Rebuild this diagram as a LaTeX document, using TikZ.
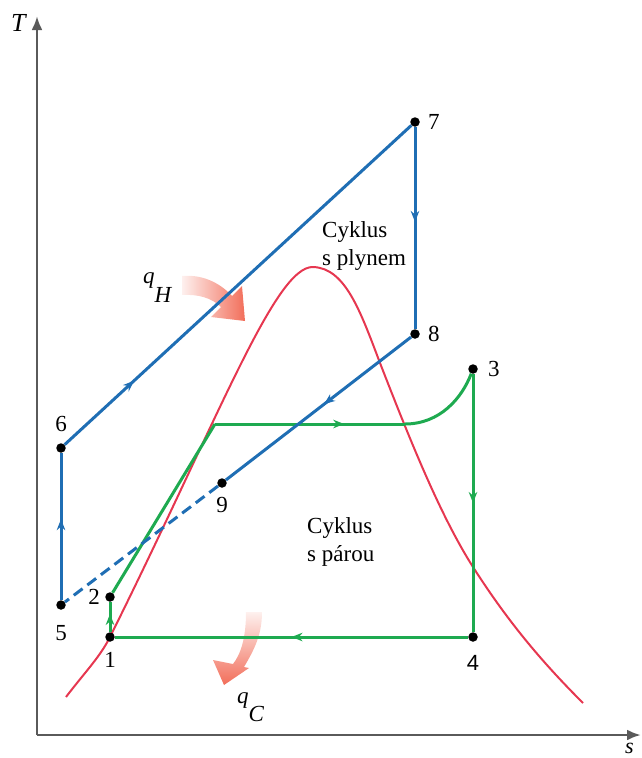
\documentclass[tikz,border=0pt]{standalone}
\usepackage{fontspec}
\setmainfont{Liberation Serif}
\newfontfamily\sansdigit{Liberation Sans}
\usetikzlibrary{arrows.meta,decorations.markings}

\definecolor{gasblue}{RGB}{31,110,180}
\definecolor{steamgreen}{RGB}{30,170,80}
\definecolor{domered}{RGB}{230,55,80}
\definecolor{heatred}{RGB}{242,110,90}
\definecolor{axisgray}{RGB}{90,90,90}

\begin{document}
\begin{tikzpicture}[x=1pt,y=-1pt,
    dot/.style={circle,fill=black,inner sep=0pt,minimum size=9.5pt},
    lbl/.style={inner sep=0pt,font=\fontsize{23}{28}\selectfont},
    gas/.style={gasblue,line width=3pt},
    steam/.style={steamgreen,line width=3pt},
    midarrow/.style={postaction={decorate},decoration={markings,
      mark=at position #1 with {\arrow{Stealth[length=11pt,width=8.5pt]}}}}]
  \useasboundingbox (0,0) rectangle (642,758);

  % axes
  \coordinate (O) at (37,735);
  \draw[axisgray,line width=2.8pt,-{Latex[length=14pt,width=11pt]}] (O) -- (37,16);
  \draw[axisgray,line width=2.8pt,-{Latex[length=14pt,width=11pt]}] (O) -- (641,735);
  \node[lbl,anchor=base west,font=\fontsize{26}{30}\selectfont\itshape] (Tlab) at (11,31) {T};
  \node[lbl,anchor=base west,font=\fontsize{22}{28}\selectfont\itshape] (slab) at (625,753) {s};

  % saturation dome
  \draw[domered,line width=2pt] (66,697) .. controls (85,672) and (100,657) .. (110,637)
    .. controls (218,420) and (275,266) .. (313,267)
    .. controls (345,268) and (360,310) .. (380,363)
    .. controls (410,440) and (440,515) .. (473,567)
    .. controls (510,625) and (545,665) .. (583,703);

  % heat in / heat out
  \shade[left color=heatred!10,right color=heatred]
    (182,276) .. controls (205,274) and (222,285) .. (232,296) -- (242,286)
    -- (245,321) -- (211,317) -- (221,307) .. controls (212,298) and (198,294) .. (182,295) -- cycle;
  \shade[top color=heatred!10,bottom color=heatred]
    (246,612) .. controls (246,640) and (240,655) .. (233,664) -- (213,660)
    -- (224,685) -- (249,668) -- (244,667) .. controls (254,650) and (262,635) .. (262,612) -- cycle;
  \node[lbl,anchor=base west] (qH) at (143,283) {\textit{q}\raisebox{-19pt}{\textit{H}}};
  \node[lbl,anchor=base west] (qC) at (237,703) {\textit{q}\raisebox{-18pt}{\textit{C}}};

  % state points
  \node[dot,label={[lbl,label distance=10pt]below:1}] (p1) at (110,637) {};
  \node[dot,label={[lbl,label distance=5pt]left:2}] (p2) at (110,597) {};
  \node[dot,label={[lbl,label distance=10pt]right:3}] (p3) at (473,369) {};
  \node[dot,label={[lbl,label distance=13pt,font=\fontsize{22}{28}\selectfont\sansdigit]below:4}] (p4) at (473,637) {};
  \node[dot,label={[lbl,label distance=15pt]below:5}] (p5) at (61,605) {};
  \node[dot,label={[lbl,label distance=11pt]above:6}] (p6) at (61,448) {};
  \node[dot,label={[lbl,label distance=8pt]right:7}] (p7) at (415,122) {};
  \node[dot,label={[lbl,label distance=8pt]right:8}] (p8) at (415,334) {};
  \node[dot,label={[lbl,label distance=9pt]below:9}] (p9) at (222,483) {};
  \coordinate (f) at (215,424);
  \coordinate (g) at (405,424);

  % steam cycle
  \draw[steam,midarrow=0.6] (p1) -- (p2);
  \draw[steam] (p2) -- (f);
  \draw[steam,midarrow=0.68] (f) -- (g);
  \draw[steam] (g) .. controls (440,424) and (462,398) .. (p3);
  \draw[steam,midarrow=0.5] (p3) -- (p4);
  \draw[steam,midarrow=0.5] (p4) -- (p1);

  % gas cycle
  \draw[gas,midarrow=0.55] (p5) -- (p6);
  \draw[gas,midarrow=0.2] (p6) -- (p7);
  \draw[gas,midarrow=0.47] (p7) -- (p8);
  \draw[gas,midarrow=0.47] (p8) -- (p9);
  \draw[gas,dash pattern=on 11pt off 6pt] (p9) -- (p5);

  \node[lbl,anchor=north west,align=left] (gascyc) at (322,221) {Cyklus\\s plynem};
  \node[lbl,anchor=north west,align=left] (steamcyc) at (307,517) {Cyklus\\s párou};
\end{tikzpicture}
\end{document}
